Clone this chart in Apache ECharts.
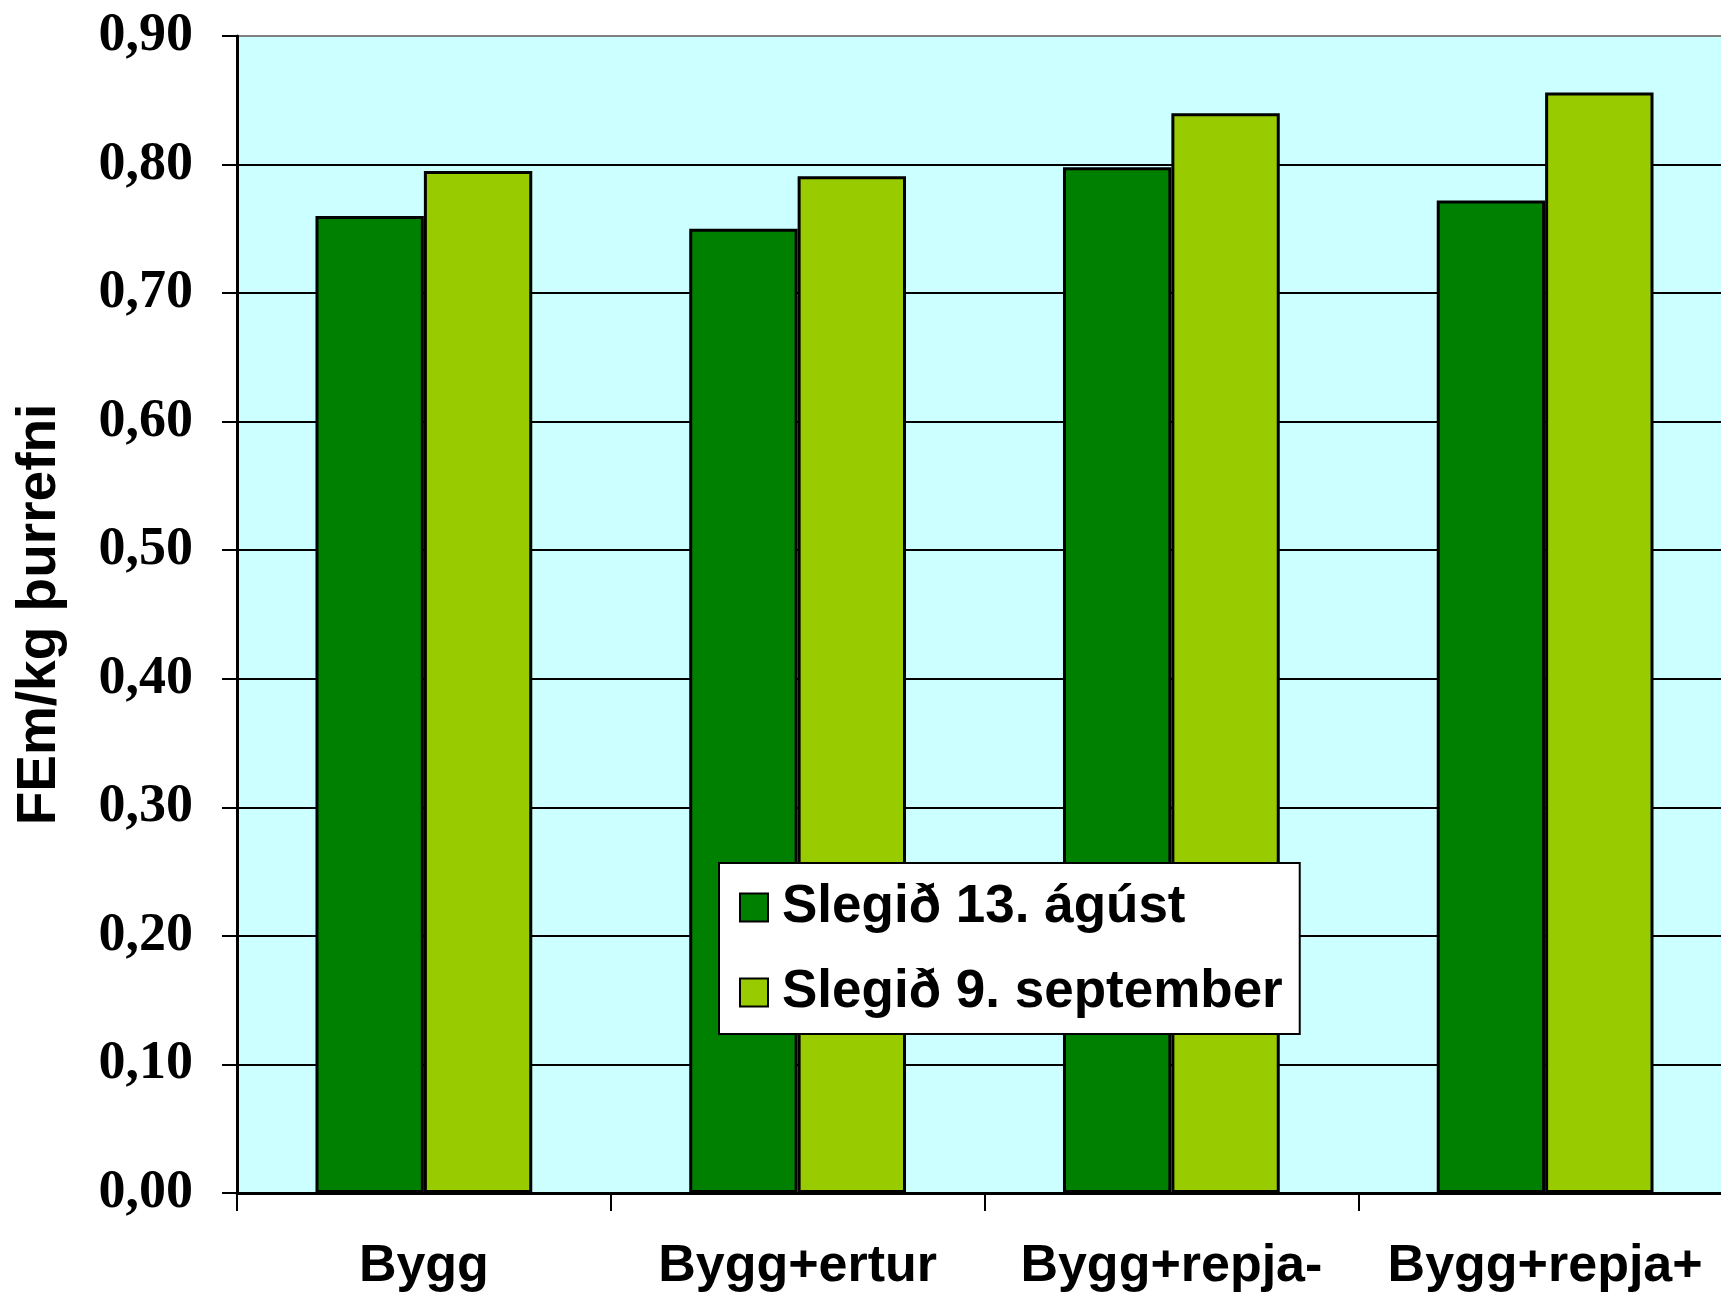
<!DOCTYPE html>
<html>
<head>
<meta charset="utf-8">
<script src="https://cdn.jsdelivr.net/npm/echarts@6/dist/echarts.min.js"></script>
<style>
  html, body { margin: 0; padding: 0; background: #fff; }
  #chart { width: 1721px; height: 1298px; }
</style>
</head>
<body>
<div id="chart"></div>
<script>
const categories = ["Bygg", "Bygg+ertur", "Bygg+repja-", "Bygg+repja+"]
const seriesNames = ["Slegið 13. ágúst", "Slegið 9. september"]
const august13 = [0.76, 0.75, 0.798, 0.772]
const september9 = [0.795, 0.791, 0.84, 0.856]
const yTicks = [0, 0.1, 0.2, 0.3, 0.4, 0.5, 0.6, 0.7, 0.8, 0.9]

// top line is the plot border (grey), the rest are black
const gridColors = yTicks.map((t, i) => (i === yTicks.length - 1 ? "#808080" : "#000"))

const barStyle = color => ({
  color: color,
  borderColor: "#000",
  borderWidth: 3
})

const option = {
  backgroundColor: "#fff",
  animation: false,
  grid: {
    // plot runs a little past the right edge of the picture
    left: 237,
    right: -11,
    top: 36,
    bottom: 105,
    outerBoundsMode: "none",
    show: true,
    backgroundColor: "#ccffff",
    borderWidth: 0
  },
  legend: {
    orient: "vertical",
    left: 719,
    top: 863,
    padding: [18, 17, 15, 20],
    itemGap: 32,
    itemWidth: 28,
    itemHeight: 28,
    icon: "rect",
    backgroundColor: "#fff",
    borderColor: "#000",
    borderWidth: 2,
    itemStyle: { borderColor: "#000", borderWidth: 2 },
    textStyle: {
      fontFamily: "Liberation Sans",
      fontWeight: "bold",
      fontSize: 53,
      color: "#000",
      lineHeight: 50,
      padding: [0, 0, 0, 9]
    },
    data: seriesNames
  },
  xAxis: {
    type: "category",
    data: categories,
    axisLine: { lineStyle: { color: "#000", width: 3 } },
    axisTick: { show: true, interval: 0, length: 18, lineStyle: { color: "#000", width: 2 } },
    axisLabel: {
      interval: 0,
      margin: 48,
      fontFamily: "Liberation Sans",
      fontWeight: "bold",
      fontSize: 52,
      color: "#000"
    },
    splitLine: { show: false }
  },
  yAxis: {
    type: "value",
    min: 0,
    max: 0.9,
    interval: 0.1,
    name: "FEm/kg þurrefni",
    nameLocation: "middle",
    nameGap: 170,
    nameTextStyle: {
      fontFamily: "Liberation Sans",
      fontWeight: "bold",
      fontSize: 55,
      color: "#000"
    },
    axisLine: { show: true, lineStyle: { color: "#000", width: 3 } },
    axisTick: { show: true, length: 15, lineStyle: { color: "#000", width: 2 } },
    axisLabel: {
      margin: 44,
      fontFamily: "Liberation Serif",
      fontWeight: "bold",
      fontSize: 54,
      color: "#000",
      formatter: v => v.toFixed(2).replace(".", ",")
    },
    splitLine: { show: true, lineStyle: { color: gridColors, width: 2 } }
  },
  series: [
    {
      name: seriesNames[0],
      type: "bar",
      data: august13,
      barGap: "0%",
      barCategoryGap: "42%",
      itemStyle: barStyle("#008000")
    },
    {
      name: seriesNames[1],
      type: "bar",
      data: september9,
      barGap: "0%",
      barCategoryGap: "42%",
      itemStyle: barStyle("#99cc00")
    }
  ]
}

echarts.init(document.getElementById("chart")).setOption(option)
</script>
</body>
</html>
